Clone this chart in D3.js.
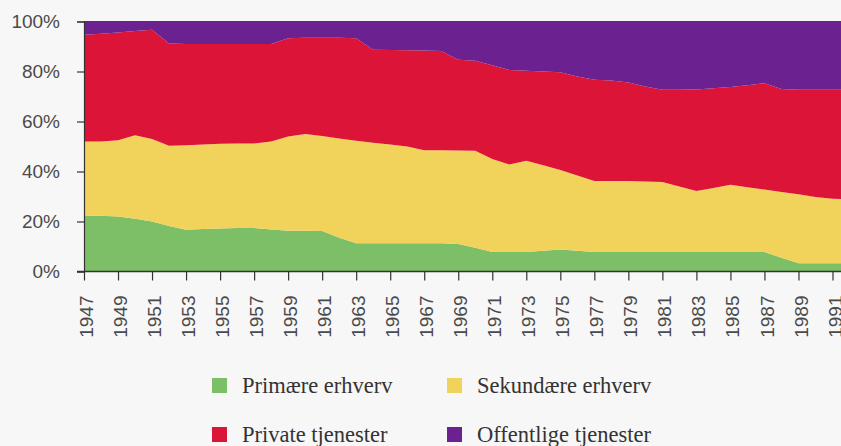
<!DOCTYPE html>
<html>
<head>
<meta charset="utf-8">
<script src="https://cdn.jsdelivr.net/npm/d3@7"></script>
<style>
  html, body { margin: 0; padding: 0; background: #f7f7f7; }
  svg { display: block; }
</style>
</head>
<body>
<svg id="chart" width="841" height="446"></svg>
<script>
// ---- data (shares in %) ----
const years = [1947,1948,1949,1950,1951,1952,1953,1954,1955,1956,1957,1958,1959,1960,1961,1962,1963,1964,1965,1966,1967,1968,1969,1970,1971,1972,1973,1974,1975,1976,1977,1978,1979,1980,1981,1982,1983,1984,1985,1986,1987,1988,1989,1990,1991,1992];
const primaere   = [22.3,22.3,22.0,21.1,20.0,18.2,16.7,17.0,17.2,17.4,17.4,16.8,16.3,16.3,16.2,13.5,11.3,11.3,11.3,11.3,11.3,11.3,11.0,9.5,7.8,7.8,7.8,8.3,8.8,8.3,7.8,7.8,7.8,7.8,7.8,7.8,7.8,7.8,7.8,7.8,7.8,5.5,3.3,3.3,3.3,3.3];
const sekundaere = [29.7,29.7,30.5,33.4,33.0,32.1,33.8,33.8,33.9,33.8,33.8,35.2,37.7,38.7,38.0,39.7,41.0,40.2,39.5,38.7,37.2,37.2,37.4,38.8,37.2,35.0,36.5,34.2,31.8,30.1,28.4,28.4,28.4,28.2,28.0,26.2,24.4,25.6,26.9,25.9,25.0,26.3,27.6,26.5,25.8,25.7];
const privateTj  = [42.7,43.1,43.1,41.7,43.7,40.9,40.5,40.2,39.9,39.8,39.8,39.0,39.3,38.5,39.3,40.3,41.0,37.2,37.8,38.5,39.9,39.7,36.3,36.0,37.5,37.8,36.0,37.5,39.1,39.6,40.5,40.2,39.4,38.0,36.9,38.7,40.6,39.9,39.1,40.8,42.5,41.2,41.8,42.9,43.6,43.7];
const offentlige = [5.3,4.9,4.4,3.8,3.3,8.8,9.0,9.0,9.0,9.0,9.0,9.0,6.7,6.5,6.5,6.5,6.7,11.3,11.4,11.5,11.6,11.8,15.3,15.7,17.5,19.4,19.7,20.0,20.3,22.0,23.3,23.6,24.4,26.0,27.3,27.3,27.2,26.7,26.2,25.5,24.7,27.0,27.3,27.3,27.3,27.3];

const seriesKeys   = ["primaere","sekundaere","private","offentlige"];
const seriesLabels = ["Primære erhverv","Sekundære erhverv","Private tjenester","Offentlige tjenester"];
const seriesColors = ["#7cbf66","#f1d35c","#dc1437","#6b2290"];
const yTicks = [0,20,40,60,80,100];
const xTickYears = d3.range(1947, 1992, 2);

// ---- build table ----
const table = years.map((yr,i) => ({
  year: yr, primaere: primaere[i], sekundaere: sekundaere[i],
  private: privateTj[i], offentlige: offentlige[i]
}));

const svg = d3.select("#chart");
const pLeft = 84, pRight = 841, pTop = 21.5, pBottom = 271.5;

const x = d3.scaleLinear().domain([1947, 1991.5]).range([pLeft, pRight]);
const y = d3.scaleLinear().domain([0, 100]).range([pBottom, pTop]);

const stacked = d3.stack().keys(seriesKeys)(table);

svg.append("defs").append("clipPath").attr("id","plotclip")
  .append("rect").attr("x", pLeft).attr("y", pTop - 1).attr("width", pRight - pLeft).attr("height", pBottom - pTop + 1);

const area = d3.area()
  .x(d => x(d.data.year))
  .y0(d => y(d[0]))
  .y1(d => y(d[1]));

svg.append("g").attr("clip-path","url(#plotclip)")
  .selectAll("path").data(stacked).join("path")
  .attr("d", area)
  .attr("fill", (d,i) => seriesColors[i]);

// top edge line
svg.append("line")
  .attr("x1", pLeft).attr("x2", pRight)
  .attr("y1", y(100)).attr("y2", y(100))
  .attr("stroke", "#4a3a55").attr("stroke-width", 1.2);

// ---- axes ----
const yAxis = d3.axisLeft(y).tickValues(yTicks).tickFormat(d => d + "%").tickSize(7).tickPadding(17);
const gy = svg.append("g").attr("transform", `translate(${pLeft},0)`).call(yAxis);
gy.select(".domain").attr("stroke", "#333").attr("stroke-width", 1.2);
gy.selectAll(".tick line").attr("stroke", "#333").attr("stroke-width", 1.2);
gy.selectAll("text")
  .attr("font-family", "'Liberation Sans', Arial, sans-serif")
  .attr("font-size", 19).attr("fill", "#4a4a4a");

const xAxis = d3.axisBottom(x).tickValues(xTickYears).tickFormat(d3.format("d")).tickSize(9).tickSizeOuter(0);
const gx = svg.append("g").attr("transform", `translate(0,${pBottom})`).call(xAxis);
gx.select(".domain").attr("stroke", "#333").attr("stroke-width", 1.4)
  .attr("d", `M${pLeft - 7},0H${pRight}`);
gx.selectAll(".tick line").attr("stroke", "#333").attr("stroke-width", 1.2);
gx.selectAll("text")
  .attr("font-family", "'Liberation Sans', Arial, sans-serif")
  .attr("font-size", 19).attr("fill", "#4a4a4a")
  .attr("transform", "rotate(-90)")
  .attr("text-anchor", "end")
  .attr("x", -24).attr("y", 0).attr("dy", "0.45em");

// ---- legend ----
const legendPos = [
  {sx: 212, ty: 393},
  {sx: 447, ty: 393},
  {sx: 212, ty: 442},
  {sx: 447, ty: 442}
];
const lg = svg.append("g").selectAll("g").data(seriesLabels).join("g");
lg.append("rect")
  .attr("x", (d,i) => legendPos[i].sx)
  .attr("y", (d,i) => legendPos[i].ty - 15)
  .attr("width", 15).attr("height", 15)
  .attr("fill", (d,i) => seriesColors[i]);
lg.append("text")
  .attr("x", (d,i) => legendPos[i].sx + 30)
  .attr("y", (d,i) => legendPos[i].ty)
  .attr("font-family", "'Liberation Serif', 'Times New Roman', serif")
  .attr("font-size", 22.5).attr("fill", "#333")
  .text(d => d);
</script>
</body>
</html>
